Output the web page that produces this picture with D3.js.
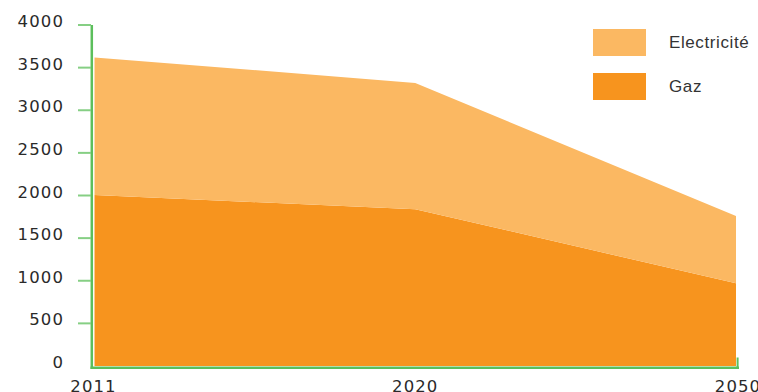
<!DOCTYPE html>
<html><head><meta charset="utf-8">
<script src="https://cdn.jsdelivr.net/npm/d3@7"></script>
<style>
html,body{margin:0;padding:0;background:#fff;}
svg{display:block;}
.tick-label{font-family:"DejaVu Sans",sans-serif;font-size:16.5px;fill:#2a2a2a;letter-spacing:1.1px;}
.legend-label{font-family:"Liberation Sans",sans-serif;font-size:17px;fill:#333;letter-spacing:0.6px;}
</style></head>
<body>
<svg id="chart" width="758" height="392"></svg>
<script>
const years = ["2011", "2020", "2050"];
const gaz = [2005, 1840, 970];
const electricite = [1615, 1480, 790];
const yTicks = [0, 500, 1000, 1500, 2000, 2500, 3000, 3500, 4000];
const seriesNames = ["Gaz", "Electricité"];
const colors = {"Gaz": "#f7941e", "Electricité": "#fbb862"};

const svg = d3.select("#chart");
const x = d3.scalePoint().domain(years).range([94.5, 736]);
const y = d3.scaleLinear().domain([0, 4000]).range([366, 25]);

const rows = years.map((yr, i) => ({year: yr, "Gaz": gaz[i], "Electricité": electricite[i]}));
const stacked = d3.stack().keys(seriesNames)(rows);

const area = d3.area()
  .x(d => x(d.data.year))
  .y0(d => y(d[0]))
  .y1(d => y(d[1]));

svg.append("g").selectAll("path").data(stacked).join("path")
  .attr("d", area)
  .attr("fill", d => colors[d.key]);

// Y axis
const green = "#5cbf5c";
const tickGreen = "#86cf84";
svg.append("line").attr("x1", 91.8).attr("x2", 91.8).attr("y1", y(4000)).attr("y2", 369)
  .attr("stroke", green).attr("stroke-width", 2.5);
svg.append("g").selectAll("line").data(yTicks.filter(v => v > 0)).join("line")
  .attr("x1", 78).attr("x2", 91).attr("y1", d => y(d)).attr("y2", d => y(d))
  .attr("stroke", tickGreen).attr("stroke-width", 2);
svg.append("g").selectAll("text").data(yTicks).join("text")
  .attr("class", "tick-label")
  .attr("x", 64).attr("y", d => y(d) + 2)
  .attr("text-anchor", "end")
  .text(d => d);

// X axis
svg.append("line").attr("x1", 90.5).attr("x2", 739).attr("y1", 367.8).attr("y2", 367.8)
  .attr("stroke", green).attr("stroke-width", 2.5);
svg.append("line").attr("x1", 737.6).attr("x2", 737.6).attr("y1", 357.5).attr("y2", 369)
  .attr("stroke", green).attr("stroke-width", 2);
svg.append("g").selectAll("text").data(years).join("text")
  .attr("class", "tick-label")
  .attr("x", (d, i) => x(d) - (i === 0 ? 1 : 0) + (i === 2 ? 2 : 0))
  .attr("y", 391.5)
  .attr("text-anchor", "middle")
  .text(d => d);

// Legend
const legendOrder = ["Electricité", "Gaz"];
const lg = svg.append("g").selectAll("g").data(legendOrder).join("g")
  .attr("transform", (d, i) => `translate(593,${29 + i * 44})`);
lg.append("rect").attr("width", 53).attr("height", 27).attr("fill", d => colors[d]);
lg.append("text").attr("class", "legend-label").attr("x", 76).attr("y", 19).text(d => d);
</script>
</body></html>
